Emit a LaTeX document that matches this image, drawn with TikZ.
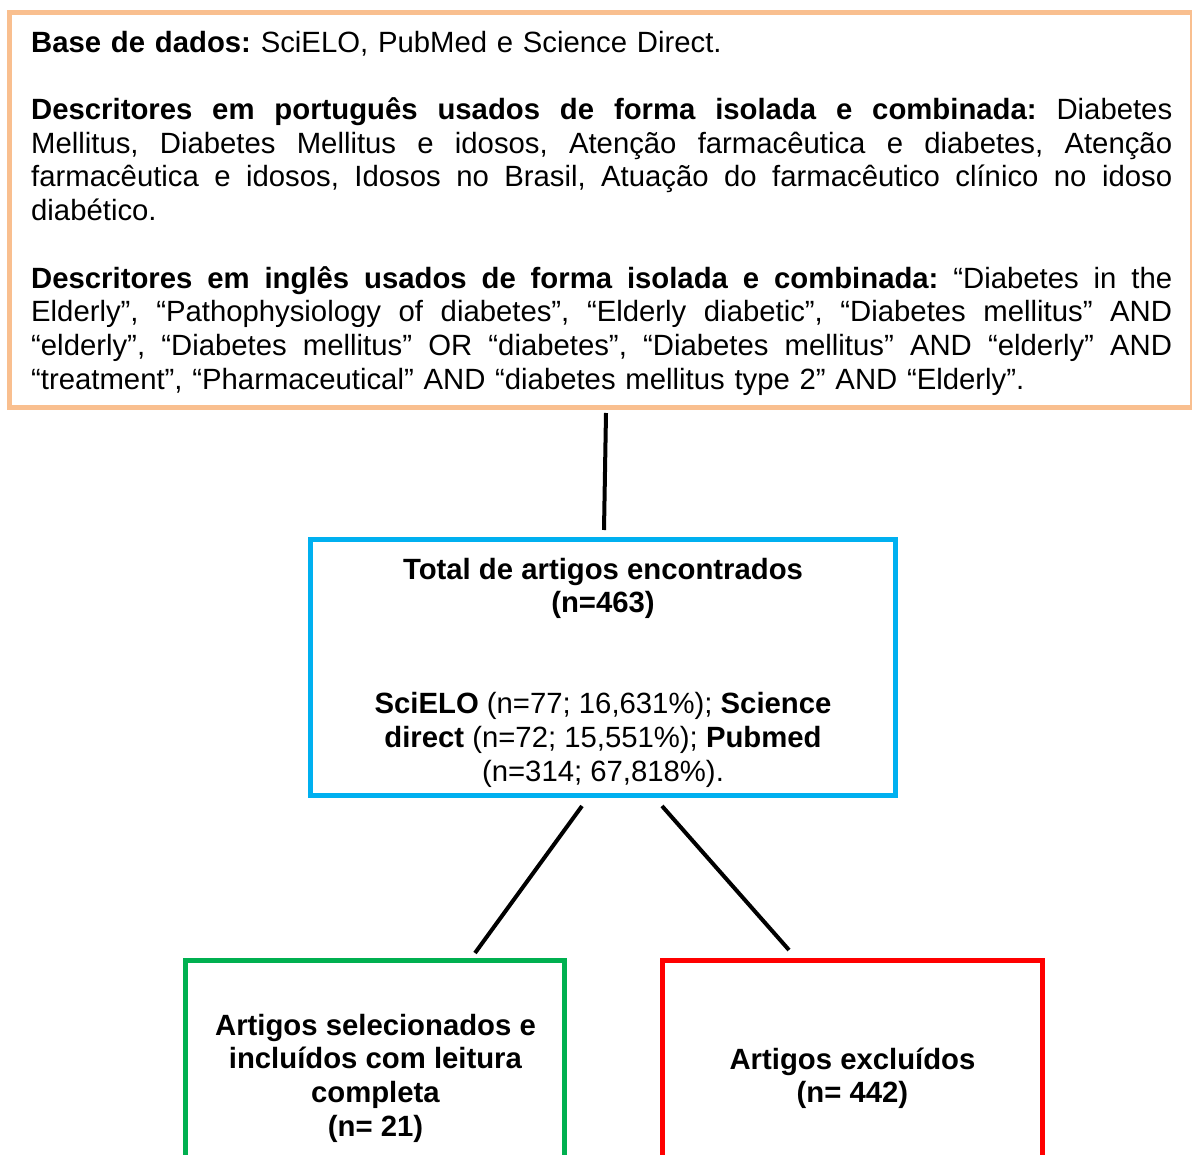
\documentclass[tikz,border=0pt]{standalone}
\usepackage{fontspec}
\setmainfont{Liberation Sans}
\frenchspacing
\definecolor{boxorange}{HTML}{F9BF8F}
\definecolor{boxblue}{HTML}{00B0F0}
\definecolor{boxgreen}{HTML}{00B050}
\definecolor{boxred}{HTML}{FF0000}
\newcommand{\jline}[1]{\hbox to 1141pt{\spaceskip=8.14pt plus 1fil\relax\xspaceskip=\spaceskip #1}\par}
\tikzset{
  frame/.style={draw=#1, line width=5pt, inner sep=0pt, fill=none},
  txt/.style={inner sep=0pt, anchor=north, align=center,
    font=\fontsize{29.3}{33.7}\selectfont},
  link/.style={line width=4pt, black}
}
\begin{document}
\begin{tikzpicture}[x=1pt,y=-1pt]
\useasboundingbox (0,0) rectangle (1192,1155);
% boxes
\node[frame=boxorange, minimum width=1183pt, minimum height=395pt] (top) at (601,210) {};
\node[frame=boxblue, minimum width=585pt, minimum height=256pt] (total) at (603,667.5) {};
\node[frame=boxgreen, minimum width=379pt, minimum height=240pt] (incl) at (375,1080.5) {};
\node[frame=boxred, minimum width=380pt, minimum height=240pt] (excl) at (852.5,1080.5) {};
% texts
\node[inner sep=0pt, anchor=north west, text width=1141pt, align=left,
  font=\fontsize{29.3}{33.7}\selectfont] (toptext) at (31,28.4) {%
\setlength{\parindent}{0pt}%
\strut\textbf{Base de dados:} SciELO, PubMed e Science Direct.\par
\vspace{33.7pt}%
\jline{\textbf{Descritores em português usados de forma isolada e combinada:} Diabetes}
\jline{Mellitus, Diabetes Mellitus e idosos, Atenção farmacêutica e diabetes, Atenção}
\jline{farmacêutica e idosos, Idosos no Brasil, Atuação do farmacêutico clínico no idoso}
diabético.\par
\vspace{33.7pt}%
\jline{\textbf{Descritores em inglês usados de forma isolada e combinada:} “Diabetes in the}
\jline{Elderly”, “Pathophysiology of diabetes”, “Elderly diabetic”, “Diabetes mellitus” AND}
\jline{“elderly”, “Diabetes mellitus” OR “diabetes”, “Diabetes mellitus” AND “elderly” AND}
“treatment”, “Pharmaceutical” AND “diabetes mellitus type 2” AND “Elderly”.\par};
\node[txt] (totaltext) at (603,555.4) {%
\strut\textbf{Total de artigos encontrados}\\
\textbf{(n=463)}\\[67.4pt]
\textbf{SciELO} (n=77; 16,631\%); \textbf{Science}\\
\textbf{direct} (n=72; 15,551\%); \textbf{Pubmed}\\
(n=314; 67,818\%).};
\node[txt] (incltext) at (375.5,1011.4) {%
\strut\textbf{Artigos selecionados e}\\
\textbf{incluídos com leitura}\\
\textbf{completa}\\
\textbf{(n= 21)}};
\node[txt] (excltext) at (852.5,1045.4) {%
\strut\textbf{Artigos excluídos}\\
\textbf{(n= 442)}};
% connectors
\coordinate (a1) at (606,413);
\coordinate (a2) at (604,530);
\coordinate (b1) at (582,806);
\coordinate (b2) at (475,953);
\coordinate (c1) at (662,806);
\coordinate (c2) at (789,950);
\draw[link] (a1) -- (a2);
\draw[link] (b1) -- (b2);
\draw[link] (c1) -- (c2);
\end{tikzpicture}
\end{document}
